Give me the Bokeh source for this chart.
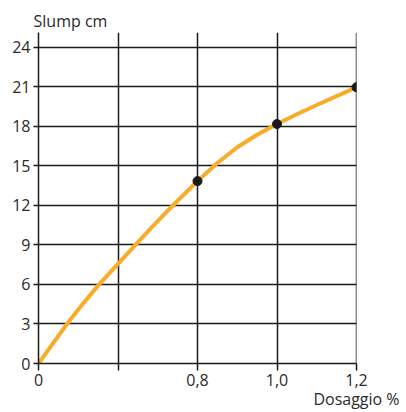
from bokeh.plotting import figure
from bokeh.models import FixedTicker, Range1d
from bokeh.embed import file_html
from bokeh.resources import INLINE

# data (real units)
tick_values = [0, 0.4, 0.8, 1.0, 1.2]
tick_labels = ["0", "", "0,8", "1,0", "1,2"]
y_ticks = [0, 3, 6, 9, 12, 15, 18, 21, 24]

curve_dosage = [0, 0.1435, 0.2135, 0.305, 0.4, 0.488, 0.58, 0.677,
                0.8, 0.85, 0.9, 0.95, 1.0, 1.05, 1.1, 1.15, 1.2]
curve_slump = [0, 3.0, 4.35, 6.0, 7.55, 9.0, 10.5, 12.0,
               13.83, 15.2, 16.4, 17.35, 18.16, 18.9, 19.6, 20.28, 20.95]

points_dosage = [0.8, 1.0, 1.2]
points_slump = [13.83, 18.16, 20.95]


def pos(x):
    # broken axis: 0..0.8 over two cells, then 0.2 per cell
    return x / 0.4 if x <= 0.8 else 2 + (x - 0.8) / 0.2


FONT = "Open Sans"
TXT = "#2a2a2a"
GRID = "#1a1a1a"

p = figure(width=406, height=412, output_backend="svg", toolbar_location=None,
           x_range=Range1d(0, 4), y_range=Range1d(0, 25.1),
           min_border_left=38, min_border_right=50, min_border_top=32,
           min_border_bottom=49,
           title="Slump cm")
p.outline_line_color = None
p.background_fill_color = "white"

p.title.align = "left"
p.title.offset = -5
p.title.standoff = 2
p.title.text_font = FONT
p.title.text_font_size = "16px"
p.title.text_font_style = "normal"
p.title.text_color = TXT

tick_pos = [pos(v) for v in tick_values]
p.xaxis.ticker = FixedTicker(ticks=tick_pos)
p.xaxis.major_label_overrides = {tp: lab for tp, lab in zip(tick_pos, tick_labels)}
p.yaxis.ticker = FixedTicker(ticks=y_ticks)

for ax in (p.xaxis[0], p.yaxis[0]):
    ax.axis_line_color = GRID
    ax.axis_line_width = 1.5
    ax.major_tick_line_color = GRID
    ax.major_tick_line_width = 1.5
    ax.major_tick_in = 0
    ax.minor_tick_line_color = None
    ax.major_label_text_font = FONT
    ax.major_label_text_font_size = "16px"
    ax.major_label_text_color = TXT
    ax.major_label_standoff = 3
p.xaxis.major_tick_out = 7
p.yaxis.major_tick_out = 5

p.xaxis.axis_label = "Dosaggio %"
p.xaxis.axis_label_align = "end"
p.xaxis.axis_label_standoff = -1
p.xaxis.axis_label_text_font = FONT
p.xaxis.axis_label_text_font_size = "16px"
p.xaxis.axis_label_text_font_style = "normal"
p.xaxis.axis_label_text_color = TXT

for g in (p.xgrid[0], p.ygrid[0]):
    g.grid_line_color = GRID
    g.grid_line_width = 1.5
    g.grid_line_alpha = 1.0
p.xgrid.ticker = FixedTicker(ticks=tick_pos)
p.ygrid.ticker = FixedTicker(ticks=y_ticks)

p.line([pos(v) for v in curve_dosage], curve_slump, line_color="#F9AC2A",
       line_width=4, line_cap="round", line_join="round")
p.scatter([pos(v) for v in points_dosage], points_slump, size=9,
          fill_color="#1a1a1a", line_color="#1a1a1a")

open("out.html", "w").write(file_html(p, INLINE))
